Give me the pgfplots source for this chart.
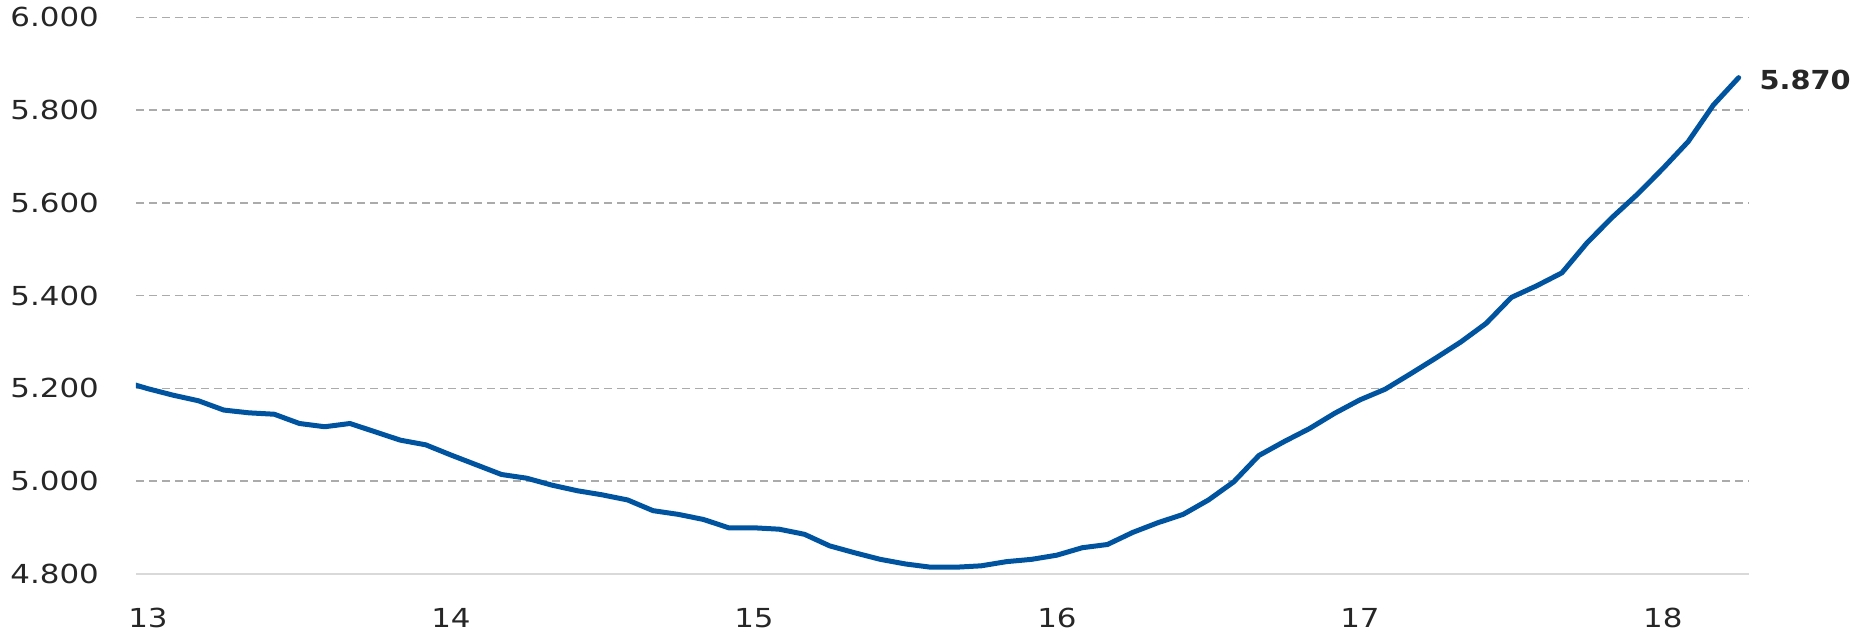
\documentclass[border=0pt]{standalone}
\usepackage{fontspec}
\setmainfont{DejaVu Sans}[FakeStretch=1.18]
\newfontfamily\valuefont{DejaVu Sans}[FakeStretch=1.10]
\usepackage{pgfplots}
\usepackage{pgfplotstable}
\pgfplotsset{compat=1.18}

\definecolor{lineblue}{HTML}{00549F}
\definecolor{labelgray}{HTML}{262626}
\definecolor{gridgray}{HTML}{ABABAB}
\definecolor{axisgray}{HTML}{D9D9D9}

% monthly series, month 0 = January 2013 (month -1 lies left of the plot and is clipped)
\pgfplotstableread{
m  v
-1 5215
0  5199
1  5185
2  5173
3  5153
4  5147
5  5144
6  5124
7  5117
8  5124
9  5106
10 5088
11 5078
12 5056
13 5035
14 5014
15 5006
16 4991
17 4979
18 4970
19 4959
20 4936
21 4928
22 4917
23 4899
24 4899
25 4896
26 4885
27 4860
28 4845
29 4831
30 4821
31 4814
32 4814
33 4817
34 4826
35 4831
36 4840
37 4856
38 4863
39 4889
40 4910
41 4928
42 4959
43 4998
44 5055
45 5085
46 5113
47 5146
48 5175
49 5198
50 5231
51 5265
52 5300
53 5340
54 5396
55 5421
56 5449
57 5514
58 5569
59 5619
60 5674
61 5732
62 5811
63 5870
}\datatable

\begin{document}
\begin{tikzpicture}
\useasboundingbox (-68bp,-29.65bp) rectangle (860bp,286.85bp);
\begin{axis}[
  at={(0,0)}, anchor=south west,
  scale only axis,
  width=806.5bp, height=278.15bp,
  xmin=-0.475, xmax=63.41,
  ymin=4800, ymax=6000,
  axis x line=bottom, axis y line=left,
  x axis line style={-, draw=axisgray, line width=1bp},
  y axis line style={draw=none},
  xtick={0,12,24,36,48,60},
  xticklabels={13,14,15,16,17,18},
  ytick={5000,5200,5400,5600,5800,6000},
  yticklabels={5.000,5.200,5.400,5.600,5.800,6.000},
  extra y ticks={4800},
  extra y tick labels={4.800},
  extra y tick style={grid=none},
  ymajorgrids,
  major grid style={draw=gridgray, line width=0.75bp, dash pattern=on 4bp off 2.5bp},
  major tick length=0pt,
  tick style={draw=none},
  ticklabel style={font=\fontsize{13.1bp}{15bp}\selectfont, text=labelgray, inner sep=0pt},
  xticklabel style={anchor=north, yshift=-17bp},
  yticklabel style={anchor=east, xshift=-18.35bp},
  clip mode=individual,
]
\addplot[lineblue, line width=2.5bp, line cap=round, line join=round, no markers]
  table[x=m, y=v] {\datatable};
\node[anchor=west, xshift=10.25bp, yshift=-1.3bp, inner sep=0pt, text=labelgray,
      font=\valuefont\bfseries\fontsize{13.1bp}{15bp}\selectfont]
  at (axis cs:63,5870) {5.870};
\end{axis}
\end{tikzpicture}
\end{document}
